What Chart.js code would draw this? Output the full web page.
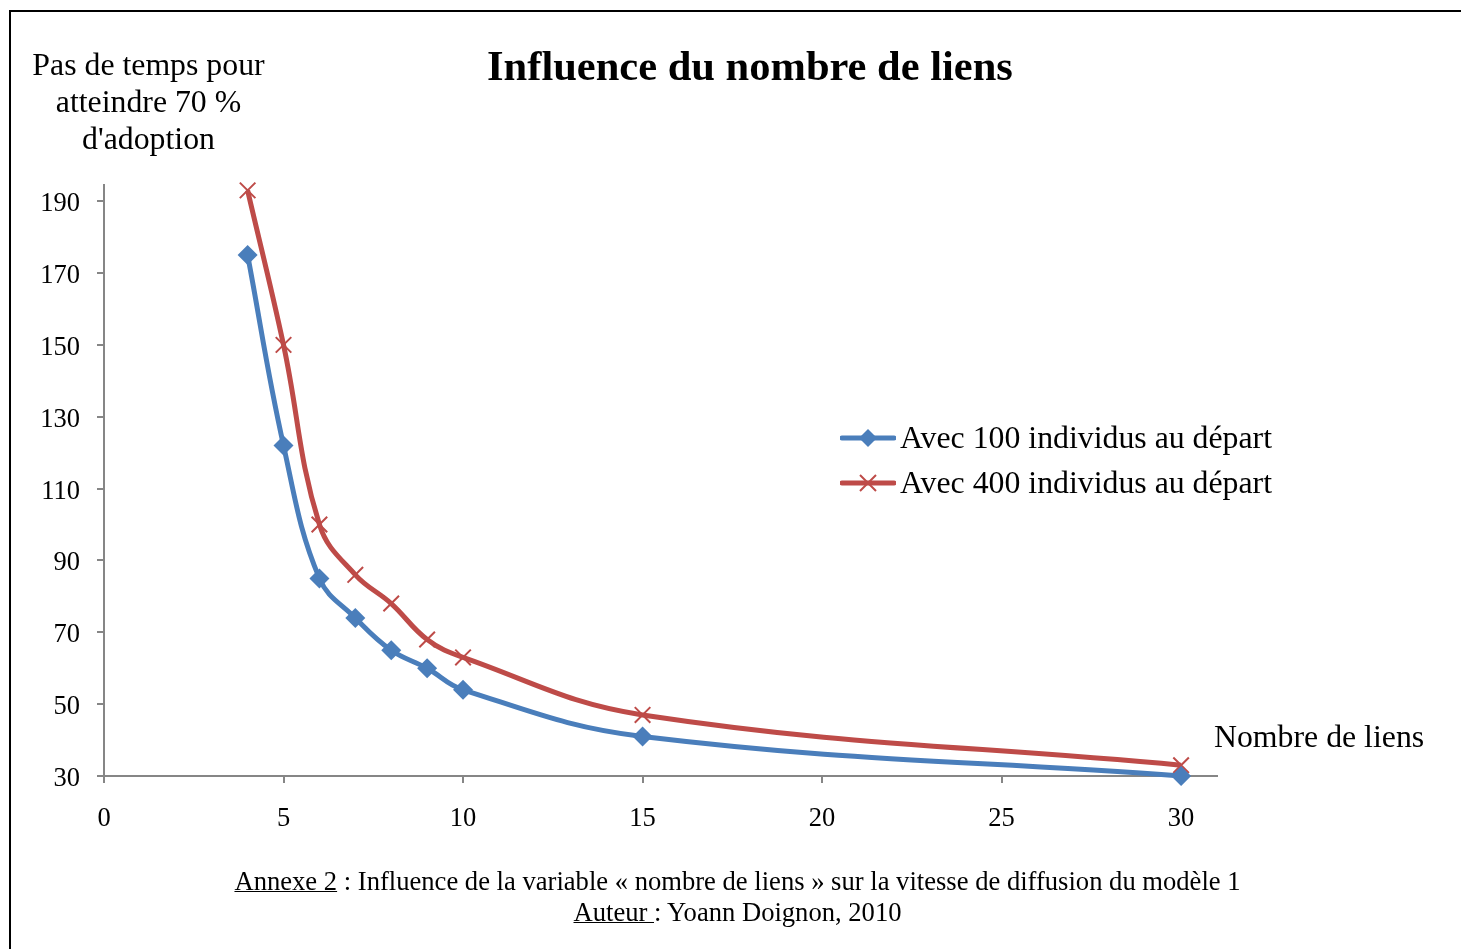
<!DOCTYPE html>
<html lang="fr">
<head>
<meta charset="utf-8">
<script src="https://cdn.jsdelivr.net/npm/chart.js@4/dist/chart.umd.min.js"></script>
<style>
    html, body { margin: 0; padding: 0; background: #fff; overflow: hidden; }
    body { width: 1461px; height: 949px; position: relative; font-family: "Liberation Serif", "Times New Roman", serif; color: #000; }
    #frame { position: absolute; left: 9px; top: 10px; width: 1470px; height: 960px; border-top: 2px solid #000; border-left: 2px solid #000; }
    #chart { position: absolute; left: 0; top: 0; }
    .txt { position: absolute; white-space: nowrap; }
    #title { left: 0; width: 1500px; top: 41px; text-align: center; font-size: 42.5px; line-height: 50px; font-weight: bold; }
    #ytitle { left: 18px; width: 261px; top: 46px; text-align: center; font-size: 31.8px; line-height: 37px; }
    #xtitle { left: 1214px; top: 718px; font-size: 31.8px; line-height: 37px; }
    #legend { left: 840px; top: 415px; font-size: 31.8px; line-height: 45px; }
    #legend svg { vertical-align: middle; margin-right: 4px; position: relative; top: -3px; }
    #caption { left: 0; width: 1475px; top: 866px; text-align: center; font-size: 26.6px; line-height: 31px; }
    #caption u { text-decoration-thickness: 1px; }
</style>
</head>
<body>
<div id="frame"></div>
<canvas id="chart" width="1461" height="949"></canvas>

<div class="txt" id="title">Influence du nombre de liens</div>
<div class="txt" id="ytitle">Pas de temps pour<br>atteindre 70 %<br>d'adoption</div>
<div class="txt" id="xtitle">Nombre de liens</div>
<div class="txt" id="legend">
    <div><svg width="56" height="22"><line x1="2" y1="11" x2="54" y2="11" stroke="#4A7EBB" stroke-width="5" stroke-linecap="round"/><polygon points="28,2 37,11 28,20 19,11" fill="#4A7EBB"/></svg>Avec 100 individus au départ</div>
    <div><svg width="56" height="22"><line x1="2" y1="11" x2="54" y2="11" stroke="#BE4B48" stroke-width="5" stroke-linecap="round"/><path d="M20 3 L36 19 M36 3 L20 19" stroke="#BE4B48" stroke-width="2"/></svg>Avec 400 individus au départ</div>
</div>
<div class="txt" id="caption"><u>Annexe 2</u> : Influence de la variable « nombre de liens » sur la vitesse de diffusion du modèle 1<br><u>Auteur </u>: Yoann Doignon, 2010</div>

<script>
// nombre de liens et pas de temps pour 70 % d'adoption
const nbLiens = [4, 5, 6, 7, 8, 9, 10, 15, 30];
const avec100 = [175, 122, 85, 74, 65, 60, 54, 41, 30];
const avec400 = [193, 150, 100, 86, 78, 68, 63, 47, 33];

const xTicks = [0, 5, 10, 15, 20, 25, 30];
const yTicks = [30, 50, 70, 90, 110, 130, 150, 170, 190];

const axisGray = '#868686';
const tickFont = { family: 'Liberation Serif', size: 26.5 };

const toPoints = (values) => nbLiens.map((x, i) => ({ x: x, y: values[i] }));

new Chart(document.getElementById('chart'), {
    type: 'line',
    data: {
        datasets: [
            {
                label: 'Avec 100 individus au départ',
                data: toPoints(avec100),
                borderColor: '#4A7EBB',
                backgroundColor: '#4A7EBB',
                borderWidth: 5,
                tension: 0.4,
                pointStyle: 'rectRot',
                pointRadius: 10,
                pointBorderWidth: 0,
                clip: false
            },
            {
                label: 'Avec 400 individus au départ',
                data: toPoints(avec400),
                borderColor: '#BE4B48',
                backgroundColor: '#BE4B48',
                borderWidth: 5,
                tension: 0.4,
                pointStyle: 'crossRot',
                pointRadius: 11,
                pointBorderWidth: 2,
                clip: false
            }
        ]
    },
    options: {
        responsive: false,
        animation: false,
        layout: { padding: { top: 185, right: 244, bottom: 0, left: 0 } },
        plugins: {
            legend: { display: false },
            title: { display: false },
            tooltip: { enabled: false }
        },
        scales: {
            x: {
                type: 'linear',
                min: 0,
                max: 31,
                afterFit: (scale) => { scale.height = 173; },
                afterBuildTicks: (scale) => { scale.ticks = xTicks.map(v => ({ value: v })); },
                border: { color: axisGray, width: 2 },
                grid: { drawOnChartArea: false, color: axisGray, lineWidth: 2, tickLength: 7 },
                ticks: { color: '#000', font: tickFont, padding: 20, maxRotation: 0 }
            },
            y: {
                min: 30,
                max: 194.5,
                afterFit: (scale) => { scale.width = 104; },
                afterBuildTicks: (scale) => { scale.ticks = yTicks.map(v => ({ value: v })); },
                border: { color: axisGray, width: 2 },
                grid: { drawOnChartArea: false, color: axisGray, lineWidth: 2, tickLength: 7 },
                ticks: { color: '#000', font: tickFont, padding: 17, labelOffset: 3 }
            }
        }
    }
});
</script>
</body>
</html>
